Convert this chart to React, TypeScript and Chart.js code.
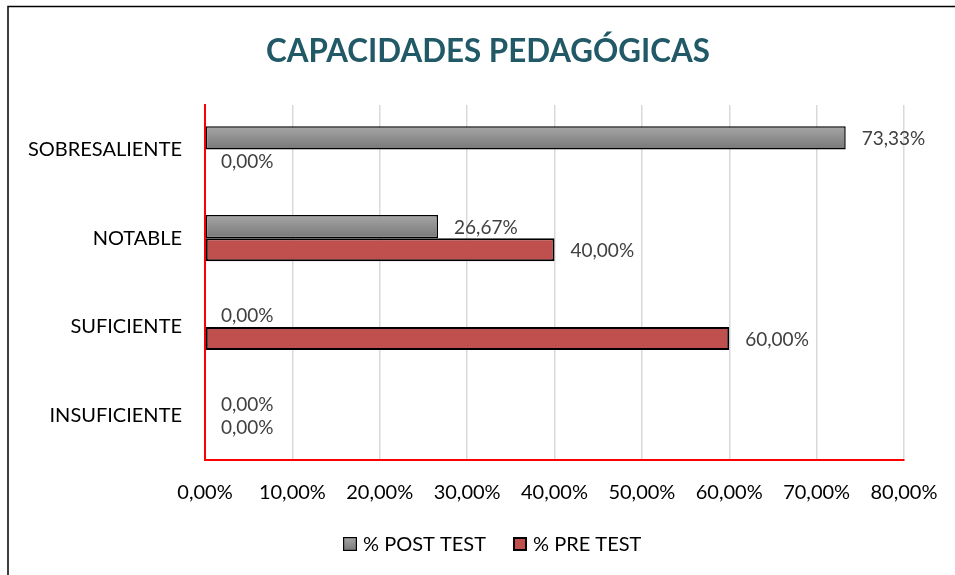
import React, { useEffect, useRef } from "react";
import { Chart, registerables } from "chart.js";

Chart.register(...registerables);

const categories = ["SOBRESALIENTE", "NOTABLE", "SUFICIENTE", "INSUFICIENTE"];
const postTest = [73.33, 26.67, 0, 0];
const preTest = [0, 40, 60, 0];
const seriesNames = ["% POST TEST", "% PRE TEST"];
const xTicks = [0, 10, 20, 30, 40, 50, 60, 70, 80];
const titleText = "CAPACIDADES PEDAGÓGICAS";

const FONT = "Lato, 'Open Sans', sans-serif";
const fmt = (v: number) => v.toFixed(2).replace(".", ",") + "%";

function grayGradient(ctx: CanvasRenderingContext2D, top: number, bottom: number) {
  const g = ctx.createLinearGradient(0, top, 0, bottom);
  g.addColorStop(0, "#a6a6a6");
  g.addColorStop(1, "#787878");
  return g;
}

export default function App() {
  const ref = useRef<HTMLCanvasElement>(null);
  useEffect(() => {
    const canvas = ref.current!;
    const decor = {
      id: "decor",
      beforeDraw(chart: any) {
        const ctx = chart.ctx;
        ctx.save();
        ctx.fillStyle = "#ffffff";
        ctx.fillRect(0, 0, chart.width, chart.height);
        ctx.strokeStyle = "#000000";
        ctx.lineWidth = 1.5;
        ctx.strokeRect(8, 6.5, 1000, 1000);
        // title
        ctx.font = `bold 32px ${FONT}`;
        const w = ctx.measureText(titleText).width;
        const target = 444;
        ctx.translate(488, 52);
        ctx.scale(target / w, 1);
        ctx.fillStyle = "#215967";
        ctx.textAlign = "center";
        ctx.textBaseline = "middle";
        ctx.fillText(titleText, 0, 0);
        ctx.restore();
      },
      afterDatasetsDraw(chart: any) {
        const ctx = chart.ctx;
        ctx.save();
        ctx.font = `19px ${FONT}`;
        ctx.fillStyle = "#404040";
        ctx.textAlign = "left";
        ctx.textBaseline = "middle";
        chart.data.datasets.forEach((ds: any, di: number) => {
          const meta = chart.getDatasetMeta(di);
          meta.data.forEach((el: any, i: number) => {
            ctx.fillText(fmt(ds.data[i]), el.x + 16, el.y + 1);
          });
        });
        ctx.restore();
      },
      afterDraw(chart: any) {
        const ctx = chart.ctx;
        ctx.save();
        ctx.font = `20px ${FONT}`;
        ctx.textBaseline = "middle";
        ctx.fillStyle = "#000";
        const y = 544;
        const items = [
          { x: 343, fill: grayGradient(ctx, 537, 551), lw: 1.2 },
          { x: 513, fill: "#C0504D", lw: 2 },
        ];
        items.forEach((it, i) => {
          ctx.fillStyle = it.fill as any;
          ctx.fillRect(it.x, 537, 14, 14);
          ctx.strokeStyle = "#000";
          ctx.lineWidth = it.lw;
          ctx.strokeRect(it.x + it.lw / 2, 537 + it.lw / 2, 14 - it.lw, 14 - it.lw);
          ctx.fillStyle = "#000";
          ctx.textAlign = "left";
          ctx.fillText(seriesNames[i], it.x + 20, y + 1);
        });
        ctx.restore();
      },
    };

    const chart = new Chart(canvas, {
      type: "bar",
      data: {
        labels: categories,
        datasets: [
          {
            label: seriesNames[0],
            data: postTest,
            backgroundColor: (c: any) => {
              const ch = c.chart;
              const ys = ch.scales && ch.scales.y;
              if (!ys || ys.top === undefined) return "#909090";
              const center = ys.getPixelForValue(c.dataIndex);
              const catH = (ys.bottom - ys.top) / categories.length;
              const barH = (catH * 0.52) / 2;
              return grayGradient(ch.ctx, center - barH, center);
            },
            borderColor: "#000",
            borderWidth: 1.5,
            borderSkipped: false,
            categoryPercentage: 0.52,
            barPercentage: 1,
          },
          {
            label: seriesNames[1],
            data: preTest,
            backgroundColor: "#C0504D",
            borderColor: "#000",
            borderWidth: 2,
            borderSkipped: false,
            categoryPercentage: 0.52,
            barPercentage: 1,
          },
        ],
      },
      options: {
        indexAxis: "y",
        responsive: false,
        animation: false,
        layout: { padding: { top: 105, right: 51, left: 0, bottom: 0 } },
        plugins: {
          legend: { display: false },
          title: { display: false },
          tooltip: { enabled: false },
        },
        scales: {
          x: {
            min: 0,
            max: 80,
            afterBuildTicks: (s: any) => {
              s.ticks = xTicks.map((v) => ({ value: v }));
            },
            afterFit: (s: any) => {
              s.height = 115;
              s.paddingLeft = 0;
              s.paddingRight = 0;
            },
            ticks: {
              callback: (v: any) => fmt(Number(v)),
              color: "#000",
              font: { family: FONT, size: 20 },
              padding: 21,
              maxRotation: 0,
              autoSkip: false,
            },
            grid: {
              color: (c: any) => (c.tick && c.tick.value === 0 ? "rgba(0,0,0,0)" : "#d9d9d9"),
              lineWidth: 1.5,
              drawTicks: false,
            },
            border: { color: "#ff0000", width: 2 },
          },
          y: {
            afterFit: (s: any) => {
              s.width = 205;
              s.paddingTop = 0;
              s.paddingBottom = 0;
            },
            ticks: {
              color: "#000",
              font: { family: FONT, size: 20 },
              padding: 23,
            },
            grid: { display: false, drawTicks: false },
            border: { color: "#ff0000", width: 2 },
          },
        },
      },
      plugins: [decor],
    } as any);
    return () => chart.destroy();
  }, []);

  return (
    <div style={{ position: "fixed", left: 0, top: 0, width: 955, height: 575, overflow: "hidden", background: "#fff" }}>
      <canvas ref={ref} width={955} height={575} style={{ display: "block", width: 955, height: 575 }} />
    </div>
  );
}
